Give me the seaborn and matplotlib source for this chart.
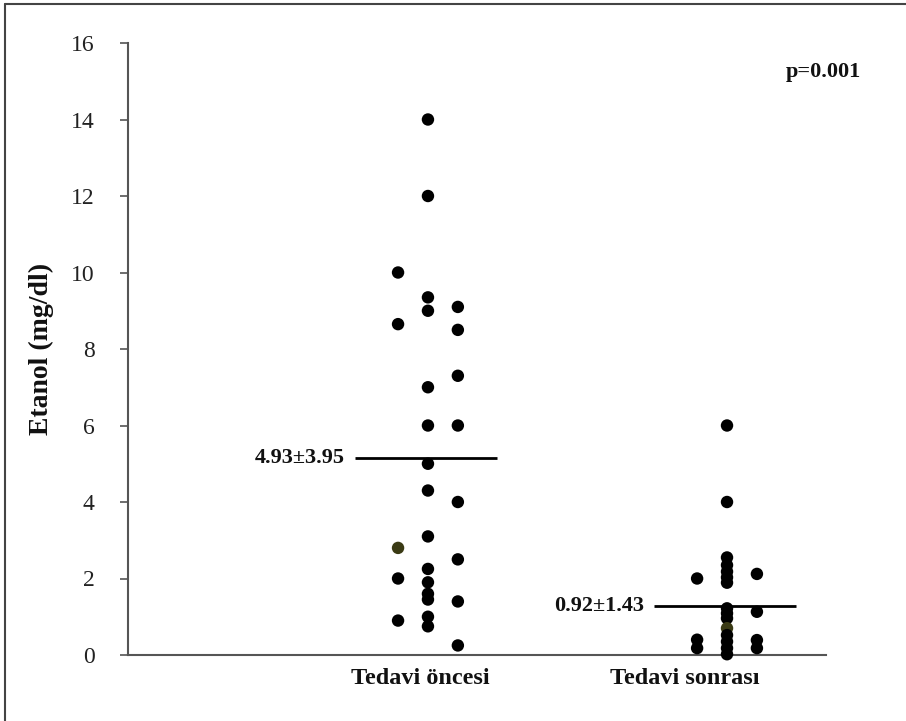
import matplotlib
matplotlib.use("Agg")
import matplotlib.pyplot as plt
from matplotlib.lines import Line2D
import seaborn as sns
import pandas as pd

# ---- data ----
groups = ["Tedavi öncesi", "Tedavi sonrası"]
before_left = [10.0, 8.65, 2.8, 2.0, 0.9]
before_center = [14.0, 12.0, 9.35, 9.0, 7.0, 6.0, 5.0, 4.3, 3.1, 2.25, 1.9, 1.6, 1.45, 1.0, 0.75]
before_right = [9.1, 8.5, 7.3, 6.0, 4.0, 2.5, 1.4, 0.25]
after_left = [2.0, 0.4, 0.18]
after_center = [6.0, 4.0, 2.55, 2.35, 2.18, 2.03, 1.89, 1.22, 1.09, 0.96, 0.7, 0.52, 0.35, 0.18, 0.02]
after_right = [2.12, 1.13, 0.39, 0.18]
olive_points = [(0, "left", 2.8), (1, "center", 0.7)]
mean_lines = [5.16, 1.29]
mean_labels = ["4.93±3.95", "0.92±1.43"]
p_text = "p=0.001"
y_label = "Etanol (mg/dl)"
y_ticks = [0, 2, 4, 6, 8, 10, 12, 14, 16]

# ---- build table ----
lane_offset = {"left": -0.1, "center": 0.0, "right": 0.1}
series = [
    (0, "left", before_left), (0, "center", before_center), (0, "right", before_right),
    (1, "left", after_left), (1, "center", after_center), (1, "right", after_right),
]
rows = []
for g, lane, vals in series:
    for v in vals:
        shade = "olive" if (g, lane, v) in olive_points else "normal"
        rows.append({"group": g, "lane": lane, "value": v, "shade": shade,
                     "xpos": g + lane_offset[lane]})
df = pd.DataFrame(rows)

sns.set_theme(style="white")
plt.rcParams["font.family"] = ["Liberation Serif", "DejaVu Serif"]

fig = plt.figure(figsize=(9.06, 7.21), dpi=100)
ax = fig.add_axes([128 / 906, 66 / 721, (826 - 128) / 906, (655 - 43) / 721])

sns.scatterplot(data=df, x="xpos", y="value", hue="shade",
                palette={"normal": "black", "olive": "#3a3a14"},
                s=80, linewidth=0, legend=False, ax=ax, clip_on=False, zorder=3)

ax.set_xlim(-1.003, 1.331)
ax.set_ylim(0, 16)
ax.set_yticks(y_ticks)
ax.set_yticklabels([str(t) for t in y_ticks])
ax.set_xticks([])
ax.set_xlabel("")
for s in ["top", "right"]:
    ax.spines[s].set_visible(False)
for s in ["left", "bottom"]:
    ax.spines[s].set_color("#555555")
    ax.spines[s].set_linewidth(1.5)
ax.tick_params(axis="y", direction="out", length=6, width=1.2, color="#555555",
               pad=18, labelsize=17, labelcolor="#222222", left=True)
ax.set_ylabel(y_label, fontweight="bold", fontsize=20, labelpad=12, color="#111111")

# mean lines and labels
for g, (m, lab) in enumerate(zip(mean_lines, mean_labels)):
    ax.hlines(m, g - 0.244, g + 0.232, color="black", linewidth=2, zorder=2)
    ax.text(g - 0.278, m, lab, ha="right", va="center", fontsize=16,
            fontweight="bold", color="#111111")

# category labels
label_x = [-0.025, 0.86]
for lx, name in zip(label_x, groups):
    ax.text(lx, -0.33, name, ha="center", va="top", fontsize=17.5,
            fontweight="bold", color="#111111")

ax.text(1.321, 15.24, p_text, ha="center", va="center", fontsize=16,
        fontweight="bold", color="#111111")

# outer frame (left and top)
fig.add_artist(Line2D([5 / 906, 5 / 906], [0, 1 - 4 / 721], transform=fig.transFigure,
                      color="#444444", lw=1.5))
fig.add_artist(Line2D([5 / 906, 1], [1 - 4 / 721, 1 - 4 / 721], transform=fig.transFigure,
                      color="#444444", lw=1.5))

fig.savefig("out.png", dpi=100, facecolor="white")
